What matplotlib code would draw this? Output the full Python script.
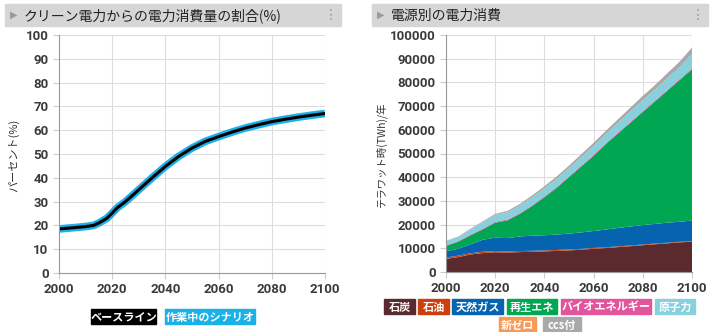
import numpy as np
import matplotlib
matplotlib.use("Agg")
import matplotlib.pyplot as plt
from matplotlib.patches import Rectangle

plt.rcParams['font.family'] = ['Noto Sans CJK JP', 'DejaVu Sans']

# share of clean electricity (%)
share_years = [2000, 2005, 2010, 2013, 2015, 2018, 2020, 2022, 2025, 2030, 2035, 2040,
               2045, 2050, 2055, 2060, 2065, 2070, 2075, 2080, 2085, 2090, 2095, 2100]
share_pct = [18.5, 19.0, 19.5, 20.0, 21.0, 23.0, 25.2, 27.5, 30.0, 35.0, 40.0, 44.8,
             49.0, 52.5, 55.3, 57.3, 59.2, 60.9, 62.3, 63.6, 64.6, 65.5, 66.3, 67.0]

# electricity consumption by source (TWh/yr)
years = [2000, 2005, 2010, 2015, 2020, 2025, 2030, 2035, 2040, 2045, 2050,
         2055, 2060, 2065, 2070, 2075, 2080, 2085, 2090, 2095, 2100]
coal = [5500, 6300, 7400, 8000, 8300, 8200, 8400, 8500, 8700, 8900, 9100,
        9400, 9800, 10100, 10500, 10900, 11300, 11700, 12100, 12500, 12800]
oil = [600, 600, 550, 550, 500, 500, 450, 450, 400, 400, 400,
       350, 350, 350, 300, 300, 300, 300, 250, 250, 250]
gas = [2600, 2900, 3750, 5050, 5700, 5600, 6150, 6350, 6400, 6500, 6700,
       6950, 7150, 7450, 7800, 8000, 8200, 8300, 8450, 8450, 8650]
renew = [2300, 3000, 3800, 4400, 6300, 7500, 9500, 12500, 16000, 19700, 23800,
         27800, 31700, 36100, 39900, 43800, 47700, 51700, 55700, 59800, 63800]
bio = [250, 250, 300, 300, 350, 350, 350, 350, 400, 400, 400,
       400, 400, 400, 400, 400, 400, 400, 400, 400, 400]
nuclear = [1750, 1750, 2200, 2700, 2850, 3050, 3150, 3350, 3400, 3400, 3400,
           3600, 3800, 3800, 4100, 4400, 4600, 4600, 4900, 5100, 6100]
newzero = [0] * 21
ccs = [200, 200, 300, 400, 500, 600, 700, 800, 900, 1000, 1100,
       1200, 1300, 1400, 1500, 1600, 1800, 1900, 2100, 2300, 2700]

source_labels = ['石炭', '石油', '天然ガス', '再生エネ', 'バイオエネルギー', '原子力', '新ゼロ', 'ccs付']
source_colors = ['#5a2a2e', '#cc3f0f', '#0563b0', '#00a651', '#e0559c', '#87d0dc', '#f59a5a', '#a9a9a9']

W, H = 717, 332
fig = plt.figure(figsize=(W / 100, H / 100), dpi=100)

TICK_FONT = ['Liberation Sans Narrow', 'Roboto', 'DejaVu Sans']


def fx(px):
    return px / W


def fy(py):
    return 1 - py / H


def title_bar(x0, x1, text):
    fig.patches.append(Rectangle((fx(x0), fy(26)), fx(x1 - x0), 22 / H,
                                 transform=fig.transFigure, color='#d6d6d6', zorder=0))
    fig.text(fx(x0 + 9), fy(15), '▶', fontsize=7, color='#9a9a9a', va='center', ha='center',
             family='DejaVu Sans')
    fig.text(fx(x0 + 19), fy(15.5), text, fontsize=10, color='#222222', va='center')
    fig.text(fx(x1 - 10), fy(15), '⋮', fontsize=10, color='#9a9a9a', va='center', ha='center',
             family='DejaVu Sans')


def style_axes(ax):
    for s in ['top', 'right']:
        ax.spines[s].set_visible(False)
    ax.spines['left'].set_color('#9a9a9a')
    ax.spines['bottom'].set_color('#9a9a9a')
    ax.grid(True, color='#dddddd', linewidth=0.8)
    ax.set_axisbelow(True)
    ax.tick_params(colors='#cccccc', length=4, width=0.8, labelcolor='#3a3a3a', labelsize=9.5)
    for lab in ax.get_xticklabels() + ax.get_yticklabels():
        lab.set_fontweight('bold')
        lab.set_family(TICK_FONT)


def legend_box(x0, x1, y0, y1, text, color):
    fig.patches.append(Rectangle((fx(x0), fy(y1)), fx(x1 - x0), (y1 - y0) / H,
                                 transform=fig.transFigure, color=color, zorder=1))
    fig.text(fx((x0 + x1) / 2), fy((y0 + y1) / 2 + 0.5), text, fontsize=8, fontweight='bold',
             color='white', ha='center', va='center', zorder=2)


# left chart
title_bar(5, 341, 'クリーン電力からの電力消費量の割合(%)')
ax1 = fig.add_axes([fx(59), fy(273), fx(325 - 59), (273 - 35) / H])
ax1.plot(share_years, share_pct, color='#1ab0e8', linewidth=5.5, solid_capstyle='butt')
ax1.plot(share_years, share_pct, color='black', linewidth=2.2)
ax1.set_xlim(2000, 2100)
ax1.set_ylim(0, 100)
ax1.set_xticks(range(2000, 2101, 20))
ax1.set_yticks(range(0, 101, 10))
style_axes(ax1)
fig.text(fx(14), fy(155), 'パーセント(%)', rotation=90, fontsize=8, color='#333333',
         ha='center', va='center')
legend_box(91, 156, 309, 324, 'ベースライン', '#000000')
legend_box(165, 255, 309, 324, '作業中のシナリオ', '#1ab0e8')

# right chart
title_bar(372, 708, '電源別の電力消費')
ax2 = fig.add_axes([fx(446), fy(272), fx(692 - 446), (272 - 35) / H])
ax2.stackplot(years, coal, oil, gas, renew, bio, nuclear, newzero, ccs,
              colors=source_colors, linewidth=0)
ax2.set_xlim(2000, 2100)
ax2.set_ylim(0, 100000)
ax2.set_xticks(range(2000, 2101, 20))
ax2.set_yticks(range(0, 100001, 10000))
style_axes(ax2)
fig.text(fx(381), fy(155), 'テラワット時(TWh)/年', rotation=90, fontsize=7.5, color='#333333',
         ha='center', va='center')

row1 = [(384, 415), (418, 449), (452, 503), (507, 557), (561, 651), (655, 695)]
for (x0, x1), lab, col in zip(row1, source_labels[:6], source_colors[:6]):
    legend_box(x0, x1, 299, 314, lab, col)
legend_box(499, 536, 317, 332, source_labels[6], source_colors[6])
legend_box(543, 581, 317, 332, source_labels[7], source_colors[7])

fig.savefig('out.png', dpi=100, facecolor='white')
